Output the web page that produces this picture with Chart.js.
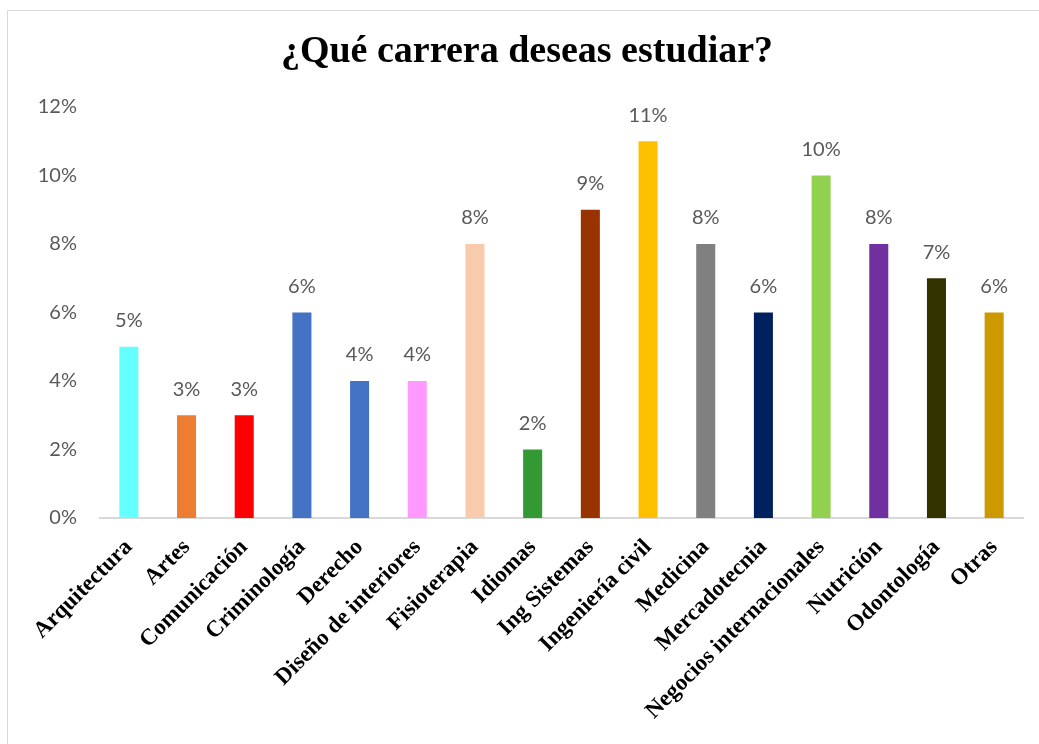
<!DOCTYPE html>
<html>
<head>
<meta charset="utf-8">
<script src="https://cdn.jsdelivr.net/npm/chart.js@4"></script>
<style>
  html, body { margin: 0; padding: 0; background: #fff; }
  #wrap { position: relative; width: 1039px; height: 744px; overflow: hidden; }
  #frame { position: absolute; left: 7px; top: 10px; width: 1100px; height: 800px; border: 1px solid #d9d9d9; box-sizing: border-box; }
  canvas { position: absolute; left: 0; top: 0; }
</style>
</head>
<body>
<div id="wrap">
  <div id="frame"></div>
  <canvas id="chart" width="1039" height="744"></canvas>
</div>
<script>
// datos
const titulo = "¿Qué carrera deseas estudiar?";
const carreras = [
  "Arquitectura", "Artes", "Comunicación", "Criminología", "Derecho",
  "Diseño de interiores", "Fisioterapia", "Idiomas", "Ing Sistemas", "Ingeniería civil",
  "Medicina", "Mercadotecnia", "Negocios internacionales", "Nutrición", "Odontología", "Otras"
];
const porcentajes = [5, 3, 3, 6, 4, 4, 8, 2, 9, 11, 8, 6, 10, 8, 7, 6];
const colores = [
  "#66FFFF", "#ED7D31", "#FF0000", "#4472C4", "#4472C4",
  "#FF99FF", "#F8CBAD", "#339933", "#993300", "#FFC000",
  "#808080", "#002060", "#92D050", "#7030A0", "#333300", "#CC9900"
];
const yTicks = [0, 2, 4, 6, 8, 10, 12];

// titulo y etiquetas de valor encima de cada barra
const valueLabels = {
  id: "valueLabels",
  afterDatasetsDraw(chart) {
    const ctx = chart.ctx;
    const meta = chart.getDatasetMeta(0);
    ctx.save();
    ctx.font = "20px Lato, 'Open Sans', sans-serif";
    ctx.fillStyle = "#595959";
    ctx.textAlign = "center";
    ctx.textBaseline = "middle";
    meta.data.forEach((bar, i) => {
      ctx.fillText(porcentajes[i] + "%", bar.x, bar.y - 26);
    });
    ctx.font = "bold 38px 'Liberation Serif', 'Times New Roman', serif";
    ctx.fillStyle = "#000";
    ctx.textBaseline = "alphabetic";
    ctx.fillText(titulo, 527, 62);
    ctx.restore();
  }
};

const ctx = document.getElementById("chart");
new Chart(ctx, {
  type: "bar",
  data: {
    labels: carreras,
    datasets: [
      {
        data: porcentajes,
        backgroundColor: colores,
        borderWidth: 0,
        barPercentage: 0.33,
        categoryPercentage: 1,
      },
    ],
  },
  options: {
    responsive: false,
    animation: false,
    layout: { padding: { left: 0, right: 16, top: 107, bottom: 0 } },
    plugins: {
      legend: { display: false },
      tooltip: { enabled: false },
      title: { display: false },
    },
    scales: {
      x: {
        grid: { display: false, drawTicks: false },
        border: { display: true, color: "#d9d9d9", width: 2 },
        ticks: {
          color: "#000",
          font: { family: "'Liberation Serif', 'Times New Roman', serif", size: 23, weight: "bold" },
          minRotation: 45,
          maxRotation: 45,
          autoSkip: false,
          padding: 16,
        },
        afterFit(scale) { scale.height = 744 - 518; },
      },
      y: {
        min: 0,
        max: 12,
        afterBuildTicks(scale) { scale.ticks = yTicks.map(v => ({ value: v })); },
        grid: { display: false, drawTicks: false },
        border: { display: false },
        ticks: {
          color: "#595959",
          font: { family: "Lato, 'Open Sans', sans-serif", size: 20 },
          padding: 23,
          callback: (v) => v + "%",
        },
        afterFit(scale) { scale.width = 100; },
      },
    },
  },
  plugins: [valueLabels],
});
</script>
</body>
</html>
